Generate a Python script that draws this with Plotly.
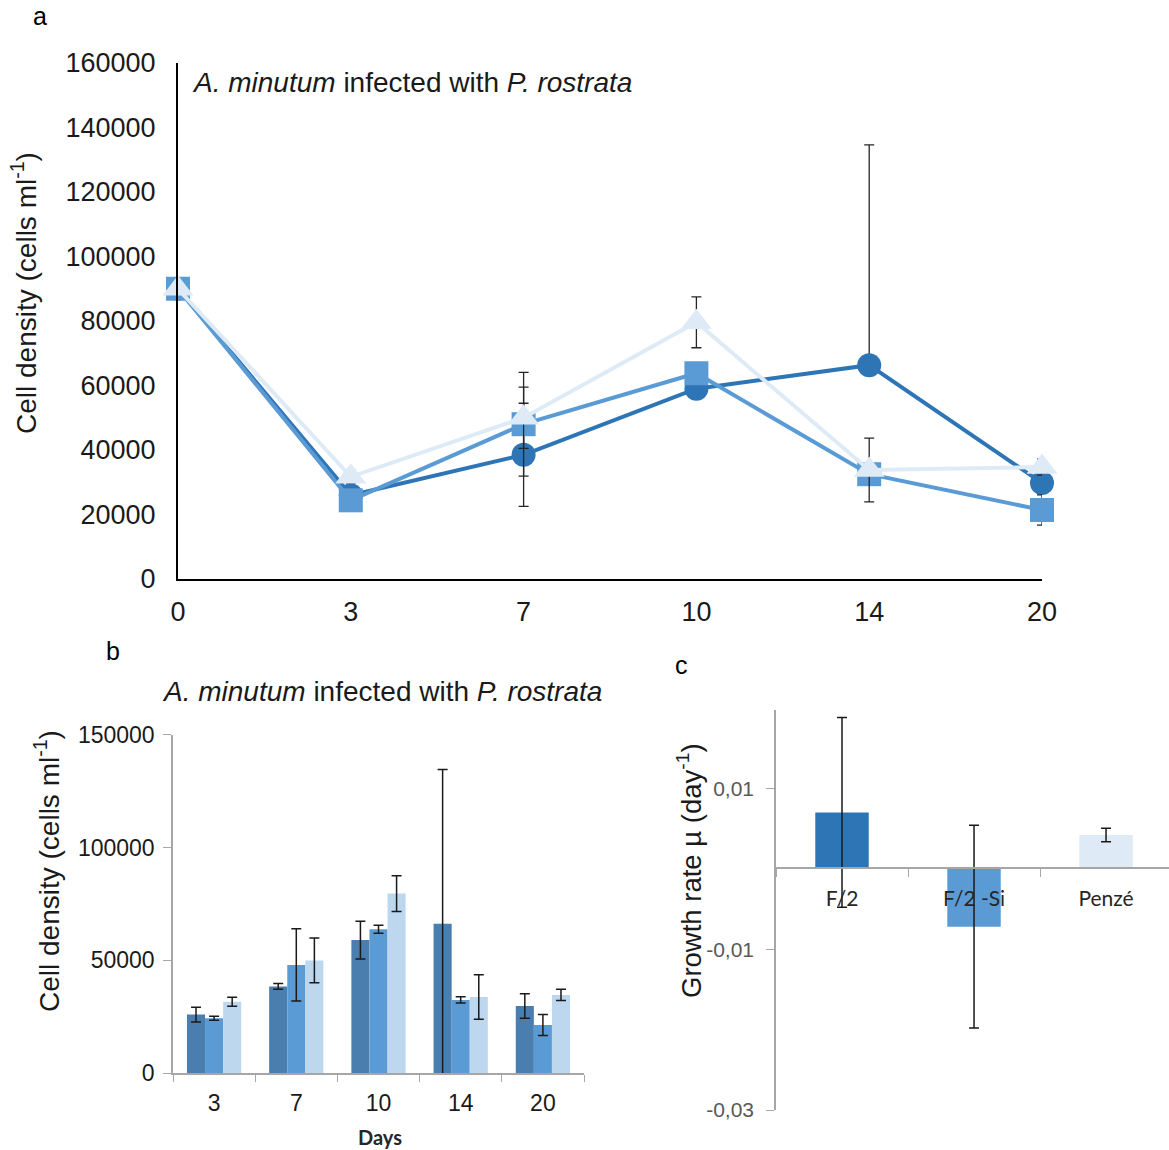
import plotly.graph_objects as go

# ---------------- data ----------------
days = ["0", "3", "7", "10", "14", "20"]
bar_days = ["3", "7", "10", "14", "20"]

# mean cell densities (cells/ml) per medium
f2 = [90000, 26000, 38500, 59000, 66300, 29800]
f2_si = [90000, 24400, 48000, 63800, 32500, 21400]
penze = [90000, 31700, 50000, 79600, 33800, 34700]

# standard deviations used for the bar chart (days 3..20)
f2_sd = [3300, 1300, 8400, 68300, 5400]
f2_si_sd = [900, 16000, 1800, 1400, 4700]
penze_sd = [2000, 9900, 7900, 9900, 2500]

# error bars shown on the line chart (days 0..20)
f2_err_up = [0, 0, 16000, 0, 68300, 0]
f2_err_down = [0, 0, 16000, 0, 0, 0]
f2_si_err = [0, 0, 16100, 1400, 1400, 4700]
penze_err = [0, 2000, 9500, 7900, 9900, 2500]

# growth rates (per day)
media = ["F/2", "F/2 -Si", "Penzé"]
growth = [0.0070, -0.0072, 0.0042]
growth_sd = [0.0118, 0.0126, 0.00085]

# ---------------- styling ----------------
W, H = 1169, 1150
C_DARK, C_MID, C_LIGHT = "#2E75B6", "#5B9BD5", "#DEEBF7"
B_DARK, B_MID, B_LIGHT = "#4A7EAF", "#5B9BD5", "#BDD7EE"
AX_GRAY = "#A6A6A6"
ARIAL = "Liberation Sans, Arial, sans-serif"
CALIBRI = "Lato, Carlito, sans-serif"


def px(x):
    return x / W


def py(y):
    return 1 - y / H


fig = go.Figure()

# ---- panel a: time series ----
err_style = dict(type="data", color="#262626", thickness=1.3, width=5)
fig.add_trace(go.Scatter(
    x=days, y=f2, mode="lines+markers", xaxis="x", yaxis="y",
    line=dict(color=C_DARK, width=4),
    marker=dict(symbol="circle", size=24, color=C_DARK),
    error_y=dict(array=f2_err_up, arrayminus=f2_err_down, symmetric=False, **err_style),
    cliponaxis=False, showlegend=False))
fig.add_trace(go.Scatter(
    x=days, y=f2_si, mode="lines+markers", xaxis="x", yaxis="y",
    line=dict(color=C_MID, width=4),
    marker=dict(symbol="square", size=24, color=C_MID),
    error_y=dict(array=f2_si_err, **err_style),
    cliponaxis=False, showlegend=False))
fig.add_trace(go.Scatter(
    x=days, y=penze, mode="lines+markers", xaxis="x", yaxis="y",
    line=dict(color=C_LIGHT, width=4),
    marker=dict(symbol="triangle-up", size=27, color=C_LIGHT),
    error_y=dict(array=penze_err, **err_style),
    cliponaxis=False, showlegend=False))

# ---- panel b: grouped bars ----
bar_err = dict(type="data", color="#1A1A1A", thickness=1.5, width=5)
for vals, sd, col in [(f2[1:], f2_sd, B_DARK), (f2_si[1:], f2_si_sd, B_MID),
                      (penze[1:], penze_sd, B_LIGHT)]:
    fig.add_trace(go.Bar(
        x=bar_days, y=vals, xaxis="x2", yaxis="y2",
        marker=dict(color=col, line=dict(width=0)),
        error_y=dict(array=sd, **bar_err), showlegend=False))

# ---- panel c: growth rates ----
fig.add_trace(go.Bar(
    x=media, y=growth, xaxis="x3", yaxis="y3", width=0.405,
    marker=dict(color=[C_DARK, C_MID, C_LIGHT], line=dict(width=0)),
    error_y=dict(type="data", array=growth_sd, color="#1A1A1A", thickness=1.5, width=5),
    showlegend=False))

tick_a = dict(family=ARIAL, size=27, color="#1A1A1A")
tick_b = dict(family=ARIAL, size=23, color="#1A1A1A")

fig.update_layout(
    width=W, height=H,
    margin=dict(l=0, r=0, t=0, b=0, pad=0, autoexpand=False),
    paper_bgcolor="white", plot_bgcolor="white",
    barmode="group", bargap=0.34, bargroupgap=0,
    xaxis=dict(domain=[px(178), px(1042)], anchor="y", type="category",
               range=[0, 5], showline=True, linecolor="black", linewidth=2,
               ticks="", showgrid=False, zeroline=False, tickfont=tick_a,
               ticklabelstandoff=8),
    yaxis=dict(domain=[py(579), py(63)], anchor="x", range=[0, 160000],
               tickvals=list(range(0, 160001, 20000)), tickformat="d",
               showline=True, linecolor="black", linewidth=2, ticks="",
               showgrid=False, zeroline=False, tickfont=tick_a,
               ticklabelstandoff=15),
    xaxis2=dict(domain=[px(173), px(584)], anchor="y2", type="category",
                showline=True, linecolor=AX_GRAY, linewidth=1.5,
                ticks="outside", tickson="boundaries", ticklen=7,
                tickcolor=AX_GRAY, showgrid=False, zeroline=False,
                tickfont=tick_b, ticklabelstandoff=8),
    yaxis2=dict(domain=[py(1073.3), py(734.7)], anchor="x2",
                range=[0, 150000], tickvals=[0, 50000, 100000, 150000],
                tickformat="d", showline=True, linecolor=AX_GRAY,
                linewidth=1.5, ticks="outside", ticklen=8, tickcolor=AX_GRAY,
                showgrid=False, zeroline=False, tickfont=tick_b,
                ticklabelstandoff=4),
    xaxis3=dict(domain=[px(776), 1.0], anchor="free", position=py(868.3),
                type="category", range=[-0.5, 2.477], showline=True,
                linecolor=AX_GRAY, linewidth=1.5, ticks="outside",
                tickson="boundaries", ticklen=8, tickcolor=AX_GRAY,
                showgrid=False, zeroline=False, ticklabelstandoff=12,
                tickfont=dict(family=CALIBRI, size=21, color="#262626")),
    yaxis3=dict(domain=[py(1110), py(710)], anchor="x3",
                range=[-0.03, 0.01974], tickvals=[-0.03, -0.01, 0.01],
                ticktext=["-0,03", "-0,01", "0,01"], showline=True,
                linecolor=AX_GRAY, linewidth=1.5, ticks="outside", ticklen=8,
                tickcolor=AX_GRAY, showgrid=False, zeroline=False,
                ticklabelstandoff=8,
                tickfont=dict(family=ARIAL, size=21, color="#595959")),
)

title_txt = "<i>A. minutum</i> infected with <i>P. rostrata</i>"
ylab = "Cell density (cells ml<sup>-1</sup>)"
ann = [
    dict(text="a", x=px(40), y=py(16), font=dict(family=ARIAL, size=25, color="black")),
    dict(text="b", x=px(113), y=py(651), font=dict(family=ARIAL, size=25, color="black")),
    dict(text="c", x=px(681), y=py(665), font=dict(family=ARIAL, size=25, color="black")),
    dict(text=title_txt, x=px(190), y=py(83), xanchor="left",
         font=dict(family=ARIAL, size=28, color="#1A1A1A")),
    dict(text=title_txt, x=px(160), y=py(692), xanchor="left",
         font=dict(family=ARIAL, size=28, color="#1A1A1A")),
    dict(text=ylab, x=px(24), y=py(293), textangle=-90,
         font=dict(family=ARIAL, size=28, color="#1A1A1A")),
    dict(text=ylab, x=px(47), y=py(871), textangle=-90,
         font=dict(family=ARIAL, size=28, color="#1A1A1A")),
    dict(text="Growth rate µ (day<sup>-1</sup>)", x=px(689), y=py(871), textangle=-90,
         font=dict(family=ARIAL, size=27.5, color="#1A1A1A")),
    dict(text="<b>Days</b>", x=px(380), y=py(1137),
         font=dict(family=CALIBRI, size=20, color="#262626")),
]
for a in ann:
    a.update(xref="paper", yref="paper", showarrow=False)
    a.setdefault("xanchor", "center")
    a.setdefault("yanchor", "middle")
fig.update_layout(annotations=ann)

fig.write_html("out.html")
